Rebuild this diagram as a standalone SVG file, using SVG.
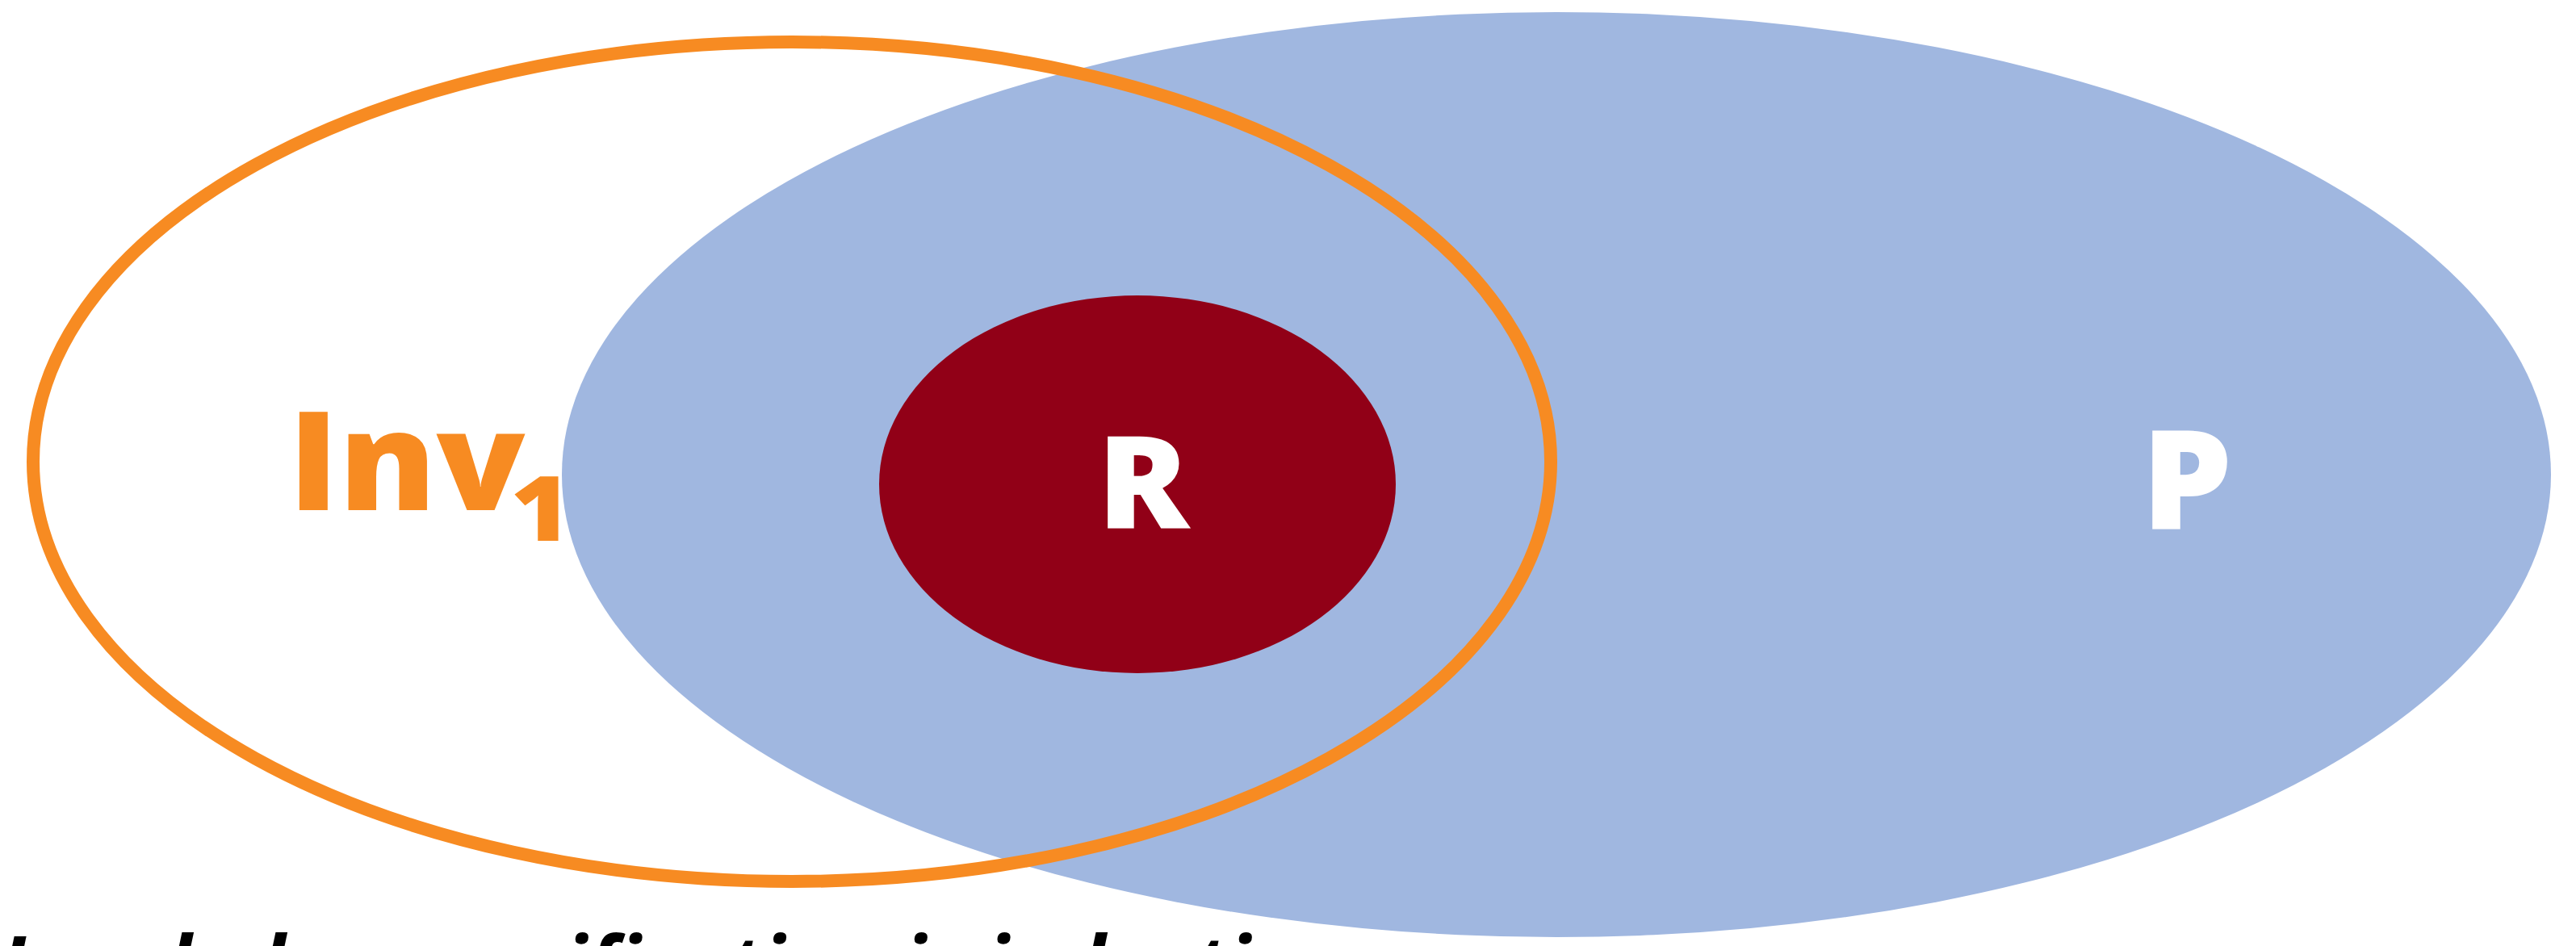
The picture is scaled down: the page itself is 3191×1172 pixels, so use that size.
<svg xmlns="http://www.w3.org/2000/svg" width="3191" height="1172" viewBox="0 0 3191 1172">
<style>
.lbl{font-family:"Open Sans","Liberation Sans",sans-serif;font-weight:800;}
.caption{font-family:"Open Sans","Liberation Sans",sans-serif;font-weight:700;font-style:italic;font-size:100px;fill:#000;}
</style>
<rect width="3191" height="1172" fill="#ffffff"/>
<g id="node-P">
<ellipse cx="1928" cy="588" rx="1232" ry="573" fill="#A0B7E0"/>
<text class="lbl" transform="translate(2709,655) scale(1.05,1)" x="0" y="0" font-size="170" fill="#ffffff" text-anchor="middle">P</text>
</g>
<g id="node-R">
<ellipse cx="1409" cy="600" rx="320" ry="234" fill="#910017"/>
<text class="lbl" transform="translate(1416,655) scale(1.05,1)" x="0" y="0" font-size="160" fill="#ffffff" text-anchor="middle">R</text>
</g>
<g id="node-Inv1">
<ellipse cx="981" cy="572" rx="940" ry="520" fill="none" stroke="#F78B22" stroke-width="16"/>
<text class="lbl" transform="translate(357,632) scale(1.06,1)" x="0" y="0" font-size="170" fill="#F78B22">Inv</text>
<text class="lbl" transform="translate(670,670) scale(1.15,1)" x="0" y="0" font-size="112" fill="#F78B22" text-anchor="middle">1</text>
</g>
<g id="connectors"/>
<text class="caption" x="0" y="1232">Inv₁ helps specification is inductive</text>
</svg>
